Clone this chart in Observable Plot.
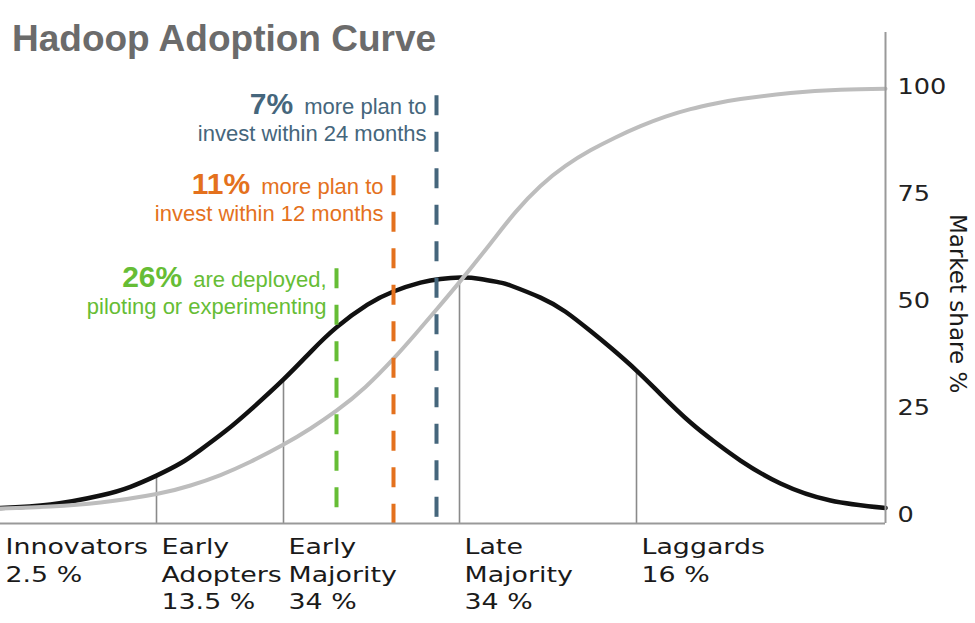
<!DOCTYPE html>
<html>
<head>
<meta charset="utf-8">
<script src="https://cdn.jsdelivr.net/npm/d3@7"></script>
<script src="https://cdn.jsdelivr.net/npm/@observablehq/plot@0.6"></script>
<style>
  body { margin: 0; background: #fff; }
  #wrap { position: relative; width: 975px; height: 623px; overflow: hidden; }
  #title { position: absolute; left: 12px; top: 18px; line-height: 37px; font: bold 37px "Liberation Sans", Arial, sans-serif; color: #6b6b6b; white-space: nowrap; }
</style>
</head>
<body>
<div id="wrap"><div id="title">Hadoop Adoption Curve</div></div>
<script>
// ---- data ----
const bellPositions = [0, 50, 100, 130, 156, 180, 200, 225, 250, 283, 310, 336, 367, 393, 420, 440, 460, 480, 500, 510, 540, 565, 590, 610, 636, 660, 690, 715, 740, 780, 830, 885];
const bellValues    = [1.75, 2.57, 4.67, 6.71, 9.32, 12.2, 15.35, 19.74, 24.7, 31.8, 38.2, 43.97, 49.28, 52.36, 54.42, 55.3, 55.61, 55.3, 54.44, 53.76, 50.93, 47.62, 43.11, 39.25, 33.88, 28.39, 21.73, 17.06, 12.85, 7.48, 3.5, 1.75];
const cumPositions  = [0, 50, 100, 156, 190, 220, 250, 283, 310, 336, 365, 393, 415, 436, 460, 490, 515, 540, 565, 590, 615, 640, 665, 690, 715, 740, 790, 840, 885];
const cumValues     = [1.64, 2.1, 3.04, 5.02, 7.01, 9.46, 12.55, 16.57, 20.35, 24.49, 30.05, 36.66, 42.43, 48.15, 54.84, 63.6, 70.91, 77.03, 81.71, 85.35, 88.36, 91.0, 93.22, 94.98, 96.31, 97.34, 98.74, 99.51, 99.77];

const segmentBounds = [156, 283, 459, 636];
const segmentTops   = [9.0, 31.4, 55.0, 33.4];

const categoryStarts = [0, 156, 283, 459, 636];
const categories     = ["Innovators", "Early\nAdopters", "Early\nMajority", "Late\nMajority", "Laggards"];
const shares         = ["2.5 %", "13.5 %", "34 %", "34 %", "16 %"];

const markerPositions = [336, 393, 436];
const markerTops      = [57.7, 79.4, 98.1];
const markerPct       = ["26%", "11%", "7%"];
const markerLine1     = ["are deployed,", "more plan to", "more plan to"];
const markerLine2     = ["piloting or experimenting", "invest within 12 months", "invest within 24 months"];
const markerColors    = ["#66bd35", "#e4711d", "#45667c"];

const yTicks = [0, 25, 50, 75, 100];
const yLabel = "Market share %";
const xDomain = [0, 885];
const yDomain = [-1.87, 112.9];

// ---- tables ----
const bell = bellPositions.map((x, i) => ({x, y: bellValues[i]}));
const cum = cumPositions.map((x, i) => ({x, y: cumValues[i]}));
const segs = segmentBounds.map((x, i) => ({x, top: segmentTops[i], base: yDomain[0]}));
const cats = categoryStarts.map((x, i) => ({x, y: yDomain[0], label: categories[i] + "\n" + shares[i]}));
const marks = markerPositions.map((x, i) => ({
  x, top: markerTops[i], base: yDomain[0], color: markerColors[i],
  l1: markerPct[i] + " " + markerLine1[i], l2: markerLine2[i]
}));
const axisTitle = [{x: xDomain[1], y: d3.mean(yTicks), text: yLabel}];

const plot = Plot.plot({
  width: 975,
  height: 623,
  marginLeft: 0,
  marginRight: 90,
  marginTop: 32,
  marginBottom: 100,
  style: {background: "#fff", fontFamily: "DejaVu Sans"},
  x: {domain: xDomain, axis: null},
  y: {domain: yDomain, ticks: yTicks, label: null},
  marks: [
    Plot.axisY(yTicks, {anchor: "right", tickSize: 0, tickPadding: 12, fontSize: 21, fill: "#222", fontFamily: "DejaVu Sans", label: null}),
    Plot.ruleX(segs, {x: "x", y1: "base", y2: "top", stroke: "#8a8a8a", strokeWidth: 1.6}),
    Plot.line(bell, {x: "x", y: "y", curve: "natural", stroke: "#111", strokeWidth: 4.5}),
    Plot.line(cum, {x: "x", y: "y", curve: "natural", stroke: "#bdbdbd", strokeWidth: 4}),
    Plot.ruleX(marks, {x: "x", y1: "top", y2: "base", stroke: "color", strokeWidth: 4, strokeDasharray: "20,16.5"}),
    Plot.ruleX([xDomain[1]], {stroke: "#999", strokeWidth: 2}),
    Plot.ruleY([yDomain[0]], {stroke: "#999", strokeWidth: 2}),
    Plot.text(cats, {x: "x", y: "y", text: "label", textAnchor: "start", lineAnchor: "top", dx: 5, dy: 11, fontSize: 22, lineHeight: 1.25, fill: "#1a1a1a", fontFamily: "DejaVu Sans"}),
    Plot.text(axisTitle, {x: "x", y: "y", text: "text", rotate: 90, textAnchor: "middle", dx: 72, dy: 2, fontSize: 23, fill: "#1a1a1a", fontFamily: "DejaVu Sans"}),
    Plot.text(marks, {x: "x", y: "top", text: "l1", fill: "color", textAnchor: "end", lineAnchor: "bottom", dx: -10, dy: 18, fontSize: 22, fontFamily: "Liberation Sans"}),
    Plot.text(marks, {x: "x", y: "top", text: "l2", fill: "color", textAnchor: "end", lineAnchor: "bottom", dx: -10, dy: 45, fontSize: 22, fontFamily: "Liberation Sans"})
  ]
});

document.getElementById("wrap").insertBefore(plot, document.getElementById("title"));

// Post-process text: widen DejaVu texts (the reference's lower labels are horizontally stretched),
// and make the leading percentages bold and large.
d3.select(plot).selectAll("text").each(function () {
  const fam = getComputedStyle(this).fontFamily || "";
  const txt = this.textContent;
  const m = /^(\d+%) (.+)$/.exec(txt);
  if (m) {
    const sel = d3.select(this);
    sel.text(null);
    sel.append("tspan").attr("font-weight", "bold").attr("font-size", 30).text(m[1]);
    sel.append("tspan").attr("dx", 11).text(m[2]);
    return;
  }
  if (fam.includes("DejaVu") && txt !== yLabel) {
    const tr = this.getAttribute("transform");
    if (tr && tr.startsWith("translate")) {
      this.setAttribute("transform", tr + " scale(1.22,1)");
    } else {
      const x = +this.getAttribute("x") || 0, y = +this.getAttribute("y") || 0;
      this.setAttribute("transform", `translate(${x},${y}) scale(1.22,1) translate(${-x},${-y})`);
    }
  }
});
</script>
</body>
</html>
